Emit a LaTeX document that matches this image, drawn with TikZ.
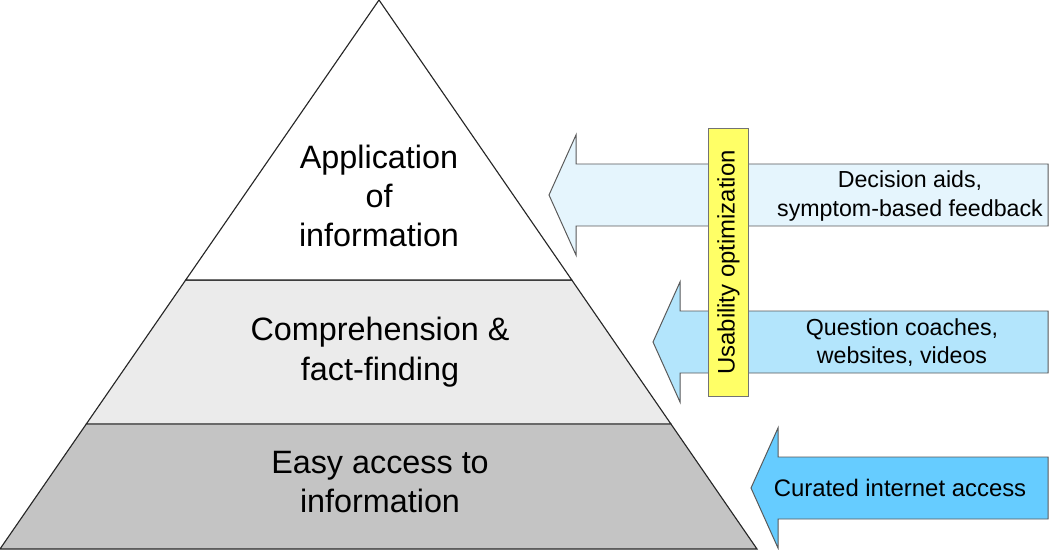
\documentclass[tikz,border=0pt]{standalone}
\usepackage{fontspec}
\setmainfont{Liberation Sans}
\usepackage{xcolor}
\usetikzlibrary{calc}
\definecolor{tiertop}{HTML}{FFFFFF}
\definecolor{tiermid}{HTML}{EBEBEB}
\definecolor{tierlow}{HTML}{C4C4C4}
\definecolor{aidpale}{HTML}{E5F5FD}
\definecolor{aidlight}{HTML}{B3E5FC}
\definecolor{aidbright}{HTML}{66CCFF}
\definecolor{usebar}{HTML}{FFFF66}
\tikzset{
  tier/.style={draw=black!85, line width=0.8pt},
  tiertext/.style={align=center, inner sep=0pt, font=\fontsize{23}{28}\selectfont},
  aidbox/.style={draw=black!65, line width=0.7pt},
  aidtext/.style={align=center, inner sep=0pt, font=\fontsize{16.5}{20}\selectfont},
  barbox/.style={draw=black!55, fill=usebar, line width=0.7pt, rotate=90,
                 minimum width=6.72cm, minimum height=1.02cm, inner sep=0pt,
                 font=\fontsize{17}{20}\selectfont}
}
% left-pointing block arrow: colour, tip x, centre y
\newcommand{\aidarrow}[3]{%
  \draw[aidbox, fill=#1] (#2,#3) -- ++(27,-60) -- ++(0,29) -- (1048,#3-31)
    -- (1048,#3+31) -- (#2+27,#3+31) -- ++(0,29) -- cycle;}

\begin{document}
\begin{tikzpicture}[x=0.025cm,y=-0.025cm]
  \useasboundingbox (0,0) rectangle (1050,550);
  % pyramid
  \coordinate (apex) at (379,0);
  \coordinate (bl) at (0,549);
  \coordinate (br) at (757,549);
  \coordinate (ul) at ($(apex)!0.51!(bl)$);
  \coordinate (ur) at ($(apex)!0.51!(br)$);
  \coordinate (ml) at ($(apex)!0.772!(bl)$);
  \coordinate (mr) at ($(apex)!0.772!(br)$);
  \draw[tier, fill=tierlow] (ml) -- (mr) -- (br) -- (bl) -- cycle;
  \draw[tier, fill=tiermid] (ul) -- (ur) -- (mr) -- (ml) -- cycle;
  \draw[tier, fill=tiertop] (apex) -- (ur) -- (ul) -- cycle;
  \node[tiertext] (apply) at (379,196) {Application\\of\\information};
  \node[tiertext] (comprehend) at (380,352) {Comprehension \&\\fact-finding};
  \node[tiertext] (access) at (380,482) {Easy access to\\information};
  % arrows
  \aidarrow{aidpale}{549}{195}
  \aidarrow{aidlight}{653}{342}
  \aidarrow{aidbright}{751}{488}
  \node[barbox] (usability) at (728.5,262.5) {Usability optimization};
  \node[aidtext] (decision) at (910,196) {Decision aids,\\symptom-based feedback};
  \node[aidtext] (coaches) at (902,343) {Question coaches,\\websites, videos};
  \node[aidtext, font=\fontsize{17}{20}\selectfont] (curated) at (900,488) {Curated internet access};
\end{tikzpicture}
\end{document}
